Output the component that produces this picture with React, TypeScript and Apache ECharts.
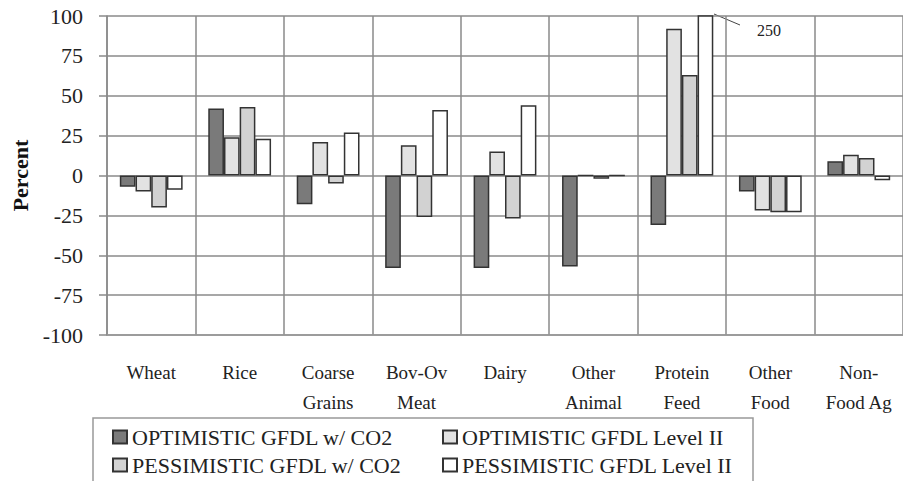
import React, { useEffect, useRef } from "react";
import * as echarts from "echarts";

const categories = ["Wheat", "Rice", "Coarse\nGrains", "Bov-Ov\nMeat", "Dairy", "Other\nAnimal", "Protein\nFeed", "Other\nFood", "Non-\nFood Ag"];
const seriesNames = ["OPTIMISTIC GFDL w/ CO2", "OPTIMISTIC GFDL Level II", "PESSIMISTIC GFDL w/ CO2", "PESSIMISTIC GFDL Level II"];
const optCO2 = [-7, 42, -18, -58, -58, -57, -31, -10, 9];
const optLevel2 = [-10, 24, 21, 19, 15, 0, 92, -22, 13];
const pessCO2 = [-20, 43, -5, -26, -27, -2, 63, -23, 11];
const pessLevel2 = [-9, 23, 27, 41, 44, 0, 250, -23, -3];
const yTicks = [-100, -75, -50, -25, 0, 25, 50, 75, 100];
const calloutLabel = "250";

const FONT = "Liberation Serif";

export default function App() {
  const ref = useRef<HTMLDivElement>(null);
  useEffect(() => {
    if (!ref.current) return;
    const chart = echarts.init(ref.current, undefined, { renderer: "svg" });
    const colors = ["#7a7a7a", "#e2e2e2", "#d2d2d2", "#ffffff"];
    const data = [optCO2, optLevel2, pessCO2, pessLevel2];
    const legendPos = [
      { left: 112, top: 426 },
      { left: 442, top: 426 },
      { left: 112, top: 454 },
      { left: 442, top: 454 },
    ];
    chart.setOption({
      animation: false,
      backgroundColor: "#ffffff",
      textStyle: { fontFamily: FONT },
      grid: { left: 107, right: 0, top: 16, bottom: 146, containLabel: false },
      xAxis: {
        type: "category",
        data: categories,
        axisLine: { onZero: false, lineStyle: { color: "#999", width: 1.5 } },
        axisTick: { show: false },
        splitLine: { show: true, lineStyle: { color: "#8a8a8a", width: 1.5 } },
        axisLabel: { fontFamily: FONT, fontSize: 19, color: "#222", lineHeight: 30, margin: 22, interval: 0 },
      },
      yAxis: {
        type: "value",
        min: yTicks[0],
        max: yTicks[yTicks.length - 1],
        interval: 25,
        name: "Percent",
        nameLocation: "middle",
        nameRotate: 90,
        nameGap: 76,
        nameTextStyle: { fontFamily: FONT, fontSize: 22, fontWeight: "bold", color: "#111" },
        axisLine: { show: true, lineStyle: { color: "#8a8a8a", width: 1.5 } },
        axisTick: { show: true, length: 8, lineStyle: { color: "#8a8a8a", width: 1.5 } },
        splitLine: { show: true, lineStyle: { color: "#8a8a8a", width: 1.5 } },
        axisLabel: { fontFamily: FONT, fontSize: 22, color: "#222", margin: 24 },
      },
      legend: seriesNames.map((n, i) => ({
        data: [n],
        left: legendPos[i].left,
        top: legendPos[i].top,
        padding: 0,
        itemWidth: 14,
        itemHeight: 13,
        textStyle: { fontFamily: FONT, fontSize: 22, color: "#222" },
        icon: "rect",
        selectedMode: false,
      })),
      graphic: [
        {
          type: "rect",
          shape: { x: 93, y: 418, width: 660, height: 70 },
          style: { fill: "none", stroke: "#999", lineWidth: 1.5 },
          silent: true,
        },
        {
          type: "line",
          shape: { x1: 714, y1: 14, x2: 740, y2: 25 },
          style: { stroke: "#444", lineWidth: 1 },
          silent: true,
        },
        {
          type: "text",
          x: 757,
          y: 30,
          style: { text: calloutLabel, fontFamily: FONT, fontSize: 16, fill: "#222", verticalAlign: "middle" },
          silent: true,
        },
      ],
      series: data.map((d, i) => ({
        name: seriesNames[i],
        type: "bar",
        data: d,
        barGap: "0%",
        barCategoryGap: "29%",
        itemStyle: { color: colors[i], borderColor: "#333", borderWidth: 1.5 },
      })),
    });
    return () => chart.dispose();
  }, []);
  return <div ref={ref} style={{ width: 903, height: 481, position: "absolute", left: 0, top: 0 }} />;
}
